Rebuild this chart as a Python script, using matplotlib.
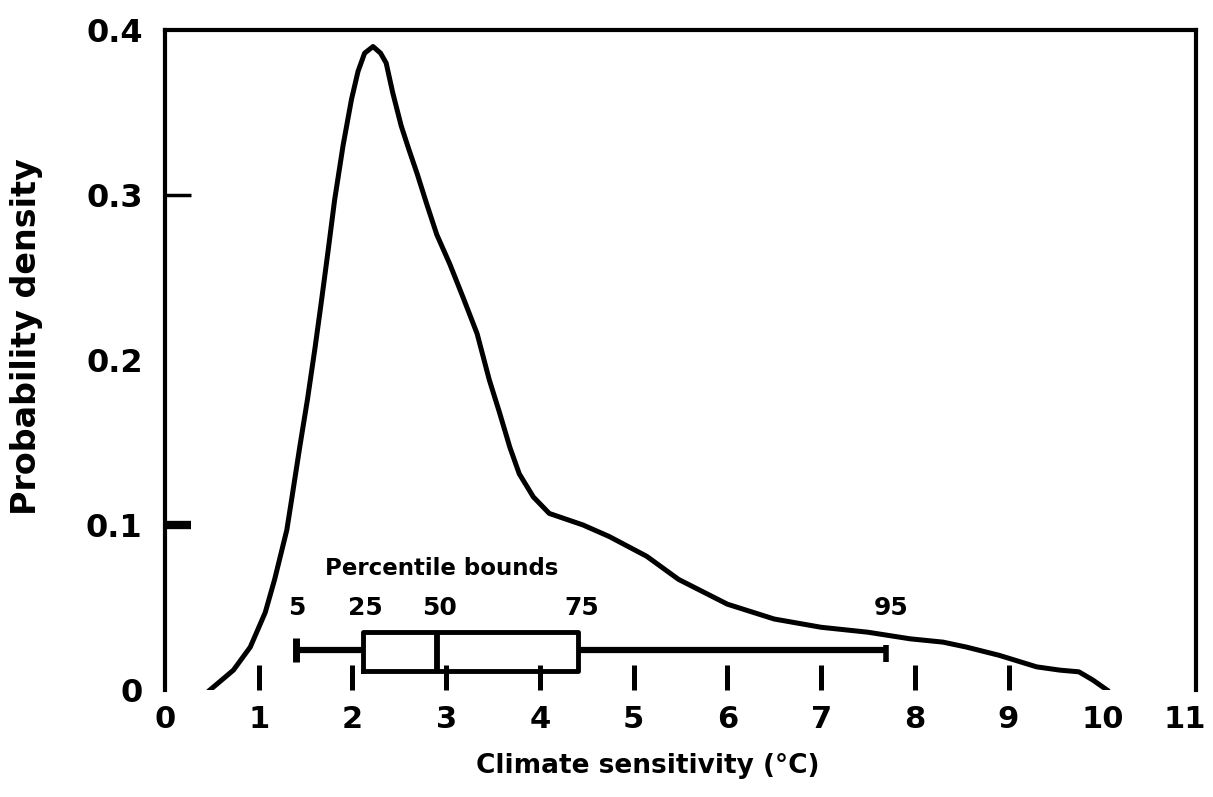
import numpy as np
import matplotlib
matplotlib.use('Agg')
import matplotlib.pyplot as plt
import matplotlib.transforms as mtransforms
from matplotlib import font_manager

# pick a narrow font if one is installed
font_name = 'DejaVu Sans'
for name in ['DejaVu Sans Condensed', 'Liberation Sans Narrow']:
    try:
        font_manager.findfont(name, fallback_to_default=False)
        font_name = name
        break
    except Exception:
        pass
plt.rcParams['font.family'] = [font_name, 'DejaVu Sans']

# density curve
sens_x = [0.48, 0.73, 0.91, 1.07, 1.17, 1.30, 1.35, 1.44, 1.52, 1.60, 1.67, 1.74,
          1.81, 1.90, 1.99, 2.06, 2.13, 2.22, 2.30, 2.36, 2.43, 2.52, 2.60, 2.69,
          2.79, 2.90, 3.04, 3.18, 3.33, 3.46, 3.57, 3.68, 3.78, 3.93, 4.10, 4.46,
          4.74, 5.14, 5.48, 6.00, 6.50, 7.00, 7.50, 7.95, 8.30, 8.55, 8.90, 9.30,
          9.55, 9.75, 9.90, 10.05]
density = [0.0, 0.012, 0.026, 0.047, 0.067, 0.097, 0.115, 0.148, 0.176, 0.207, 0.236, 0.266,
           0.297, 0.330, 0.358, 0.375, 0.386, 0.390, 0.386, 0.380, 0.362, 0.342, 0.328, 0.313,
           0.295, 0.276, 0.258, 0.238, 0.216, 0.188, 0.168, 0.147, 0.131, 0.117, 0.107, 0.100,
           0.093, 0.081, 0.067, 0.052, 0.043, 0.038, 0.035, 0.031, 0.029, 0.026, 0.021, 0.014,
           0.012, 0.011, 0.006, 0.0]

# percentile bounds (5, 25, 50, 75, 95)
pct_names = ['5', '25', '50', '75', '95']
pct_values = [1.40, 2.11, 2.90, 4.41, 7.69]
pct_label_x = [1.41, 2.14, 2.93, 4.45, 7.75]
box_low, box_high, whisker_y = 0.0115, 0.035, 0.0242

xticks = list(range(0, 12))
yticks = [0, 0.1, 0.2, 0.3, 0.4]
ytick_labels = ['0', '0.1', '0.2', '0.3', '0.4']

fig = plt.figure(figsize=(12.13, 7.97), dpi=100)
ax = fig.add_axes([0.136, 0.1343, 0.850, 0.828])

ax.plot(sens_x, density, color='black', lw=3.6, solid_joinstyle='round')

# whiskers
ax.plot([pct_values[0], pct_values[1]], [whisker_y, whisker_y], color='black', lw=4.5, solid_capstyle='butt')
ax.plot([pct_values[3], pct_values[4]], [whisker_y, whisker_y], color='black', lw=4.5, solid_capstyle='butt')
ax.plot([pct_values[0], pct_values[0]], [0.017, 0.0315], color='black', lw=5, solid_capstyle='butt')
ax.plot([pct_values[4], pct_values[4]], [0.017, 0.027], color='black', lw=4, solid_capstyle='butt')
# box and median
ax.plot([pct_values[1], pct_values[3], pct_values[3], pct_values[1], pct_values[1]],
        [box_low, box_low, box_high, box_high, box_low], color='black', lw=3.5)
ax.plot([pct_values[2], pct_values[2]], [box_low, box_high], color='black', lw=4.2, solid_capstyle='butt')

for name, px in zip(pct_names, pct_label_x):
    ax.text(px, 0.0495, name, ha='center', va='center', fontsize=18, fontweight='bold')
ax.text(2.95, 0.0735, 'Percentile bounds', ha='center', va='center', fontsize=16.5, fontweight='bold')

ax.set_xlim(0, 11)
ax.set_ylim(0, 0.4)
ax.set_xticks(xticks)
ax.set_yticks(yticks)
ax.set_yticklabels(ytick_labels)

for s in ['left', 'top', 'right']:
    ax.spines[s].set_linewidth(3)
ax.spines['bottom'].set_visible(False)

ax.tick_params(axis='x', direction='in', length=18, width=3.6, pad=11, labelsize=22)
ax.tick_params(axis='y', direction='in', length=19, width=6, pad=16, labelsize=23)
for lab in ax.get_xticklabels() + ax.get_yticklabels():
    lab.set_fontweight('bold')
# no tick mark on 0, 0.2, 0.4 and a thin one on 0.3
yt = ax.yaxis.get_major_ticks()
for i in [0, 2, 4]:
    yt[i].tick1line.set_visible(False)
yt[3].tick1line.set_markeredgewidth(2.5)
xt = ax.xaxis.get_major_ticks()
for i in [0, 10, 11]:
    xt[i].tick1line.set_visible(False)
# keep the last label inside the picture
last = ax.get_xticklabels()[-1]
last.set_transform(last.get_transform() + mtransforms.ScaledTranslation(-8 / 72, 0, fig.dpi_scale_trans))

ax.set_xlabel('Climate sensitivity (\u00b0C)', fontsize=19, fontweight='bold')
ax.xaxis.set_label_coords(0.468, -0.095)
ax.set_ylabel('Probability density', fontsize=24, fontweight='bold')
ax.yaxis.set_label_coords(-0.118, 0.535)

fig.savefig('out.png', dpi=100)
